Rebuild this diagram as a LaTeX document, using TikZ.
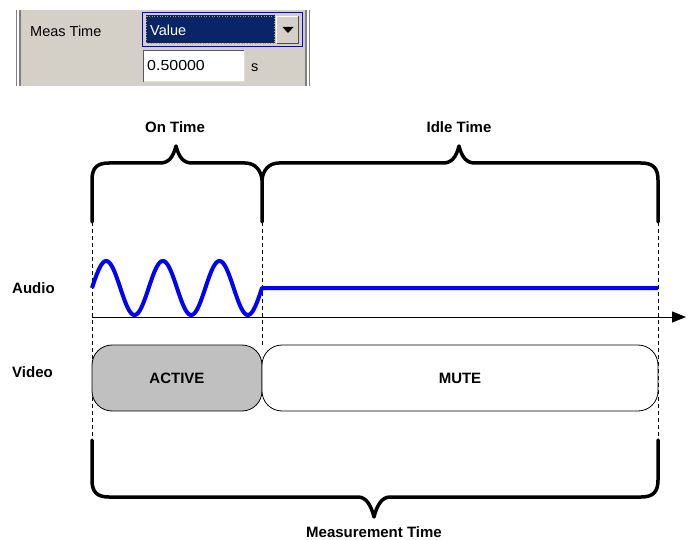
\documentclass[tikz,border=0pt]{standalone}
\usepackage{fontspec}
\setmainfont{Liberation Sans}
\usetikzlibrary{arrows.meta}
\definecolor{panelgray}{RGB}{212,208,200}
\definecolor{navyblue}{RGB}{10,36,106}
\definecolor{activegray}{RGB}{192,192,192}
\definecolor{borderdark}{RGB}{128,128,128}
\begin{document}
\begin{tikzpicture}[x=1pt,y=-1pt,
  lbl/.style={font=\fontsize{15}{15}\selectfont\bfseries, inner sep=0pt},
  uitext/.style={font=\fontsize{14.5}{14.5}\selectfont, inner sep=0pt, anchor=west},
  brace/.style={line width=3.5pt, line cap=round, line join=round},
  guide/.style={dash pattern=on 4pt off 3pt, line width=0.8pt},
  wave/.style={blue, line width=4pt, line join=round},
  vbox/.style={draw, line width=0.8pt, rounded corners=20pt, minimum height=66pt, lbl}
]
\useasboundingbox (0,0) rectangle (696,540);
% ---------- top panel ----------
\fill[panelgray] (21,10) rectangle (306,86);
\draw[borderdark, line width=1.5pt] (16.5,10) -- (16.5,86);
\draw[borderdark, line width=1.5pt] (20,10) -- (20,86);
\draw[borderdark, line width=1.5pt] (306,10) -- (306,86);
\draw[borderdark, line width=1.5pt] (309.5,10) -- (309.5,86);
\node[uitext] (meas) at (30,31) {Meas Time};
% dropdown
\draw[blue, line width=1.4pt] (142.5,12.5) rectangle (302.5,46.5);
\fill[navyblue] (146,15.5) rectangle (275,43.5);
\draw[yellow!60!black, dotted, line width=0.6pt] (146.5,16) rectangle (274.5,43);
\fill[panelgray] (276,16) rectangle (299,44);
\draw[white, line width=1pt] (276.5,43.5) -- (276.5,16.5) -- (298.5,16.5);
\draw[black!70, line width=1pt] (276.5,43.5) -- (298.5,43.5) -- (298.5,16.5);
\fill[black] (282.5,27) -- (293.5,27) -- (288,33) -- cycle;
\node[uitext, text=white] (value) at (150,30) {Value};
% text field
\fill[white] (143,50) rectangle (245,82);
\draw[black!65, line width=1.5pt] (143.5,82) -- (143.5,50.5) -- (245,50.5);
\draw[panelgray!70!white, line width=1pt] (143.5,81.5) -- (244.5,81.5) -- (244.5,50.5);
\node[uitext, xscale=1.1] (val) at (147,66) {0.50000};
\node[uitext] (unit) at (251,68) {s};
% ---------- labels ----------
\node[lbl] (ontime) at (175,127) {On Time};
\node[lbl] (idletime) at (459,127) {Idle Time};
\node[lbl] (meastime) at (374,532) {Measurement Time};
\node[lbl, anchor=west] (audio) at (12,288) {Audio};
\node[lbl, anchor=west] (video) at (12,372) {Video};
% ---------- coordinates ----------
\coordinate (tl) at (92,222);
\coordinate (tm) at (262,222);
\coordinate (tr) at (658,222);
\coordinate (bl) at (92,440);
\coordinate (br) at (658,440);
\coordinate (mb) at (262,345);
\coordinate (axs) at (92,317);
\coordinate (axe) at (686,317);
% ---------- braces ----------
\draw[brace] (tl) -- (92,180) .. controls (92,168) and (97,163) .. (109,163)
  -- (160,163) .. controls (168,163) and (173,158) .. (176,146)
  .. controls (179,158) and (184,163) .. (192,163)
  -- (245,163) .. controls (255,163) and (261,170) .. (262,180) -- (tm);
\draw[brace] (262,180) .. controls (263,170) and (269,163) .. (279,163)
  -- (443,163) .. controls (451,163) and (456,158) .. (459,146)
  .. controls (462,158) and (467,163) .. (475,163)
  -- (641,163) .. controls (653,163) and (658,168) .. (658,180) -- (tr);
\draw[brace] (bl) -- (92,480) .. controls (92,492) and (97,497) .. (109,497)
  -- (358,497) .. controls (366,497) and (371,505) .. (374,517)
  .. controls (377,505) and (382,497) .. (390,497)
  -- (641,497) .. controls (653,497) and (658,492) .. (658,480) -- (br);
% ---------- guides ----------
\draw[guide] (tl) -- (bl);
\draw[guide] (tm) -- (mb);
\draw[guide] (tr) -- (br);
% ---------- axis ----------
\draw[line width=1pt, -{Triangle[length=14pt,width=11pt]}] (axs) -- (axe);
% ---------- audio ----------
\draw[wave] plot[domain=0:1080, samples=240, smooth] ({92+\x*0.157407},{288-27*sin(\x)}) -- (658,288);
% ---------- video ----------
\node[vbox, fill=activegray, minimum width=170pt] (active) at (177,378) {ACTIVE};
\node[vbox, fill=white, minimum width=396pt] (mute) at (460,378) {MUTE};
\end{tikzpicture}
\end{document}
